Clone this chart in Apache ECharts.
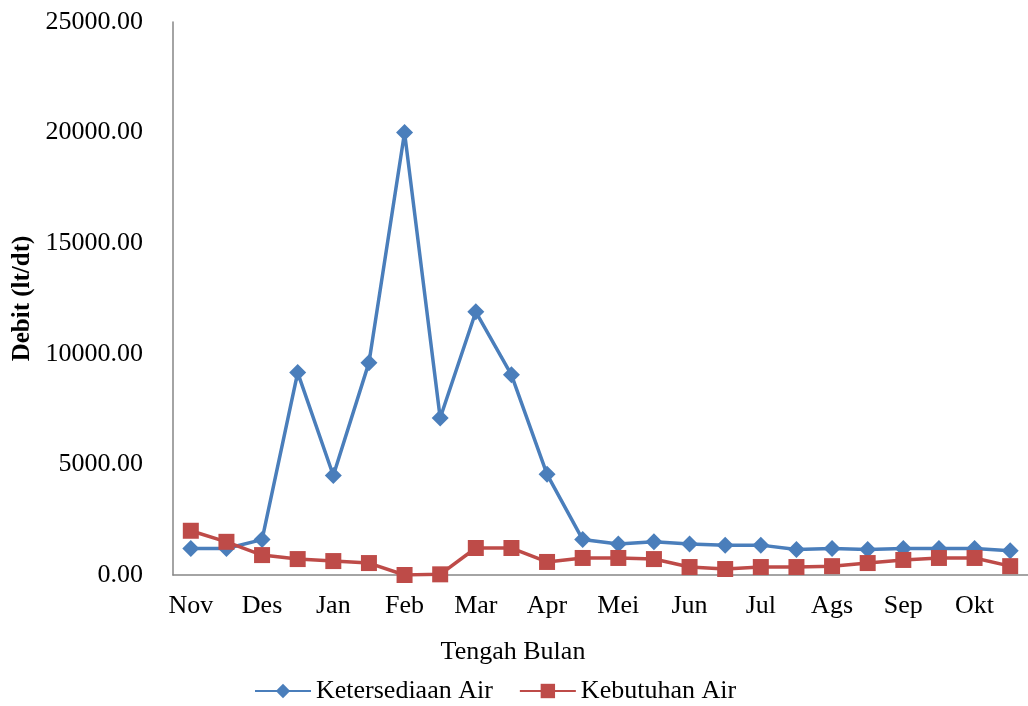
<!DOCTYPE html>
<html>
<head>
<meta charset="utf-8">
<script src="https://cdn.jsdelivr.net/npm/echarts@6/dist/echarts.min.js"></script>
<style>html,body{margin:0;padding:0;background:#fff}#c{width:1028px;height:706px}</style>
</head>
<body>
<div id="c"></div>
<script>
const months = ['Nov','Des','Jan','Feb','Mar','Apr','Mei','Jun','Jul','Ags','Sep','Okt'];
const categories = [];
months.forEach(m => { categories.push(m + ' I'); categories.push(m + ' II'); });
const ketersediaan = [1200,1200,1600,9150,4500,9600,20000,7100,11900,9050,4550,1600,1400,1500,1400,1350,1350,1150,1200,1150,1200,1200,1200,1100];
const kebutuhan = [2000,1500,900,720,630,540,0,30,1220,1220,590,770,770,720,360,270,360,360,400,540,680,770,770,400];
const yTicks = [0,5000,10000,15000,20000,25000];

const font = '"Liberation Serif", "Times New Roman", serif';
const chart = echarts.init(document.getElementById('c'), null, {renderer:'canvas'});
chart.setOption({
  animation:false,
  backgroundColor:'#fff',
  title:{text:'Tengah Bulan', left:508, top:634, textAlign:'center',
    textStyle:{fontFamily:font, fontSize:26, fontWeight:'normal', color:'#000'}},
  grid:{left:173, right:-4, top:22, bottom:131},
  legend:{
    top:673, left:249, itemGap:26, itemWidth:56, itemHeight:18,
    textStyle:{fontFamily:font, fontSize:26, color:'#000'},
    data:['Ketersediaan Air','Kebutuhan Air']
  },
  xAxis:{
    type:'category', data:categories, boundaryGap:true,
    axisLine:{lineStyle:{color:'#868686', width:1.5}},
    axisTick:{show:false},
    axisLabel:{interval:0, margin:18, fontFamily:font, fontSize:26, color:'#000',
      formatter:(v)=> v.endsWith(' I') ? v.slice(0,-2) : ''}
  },
  yAxis:{
    type:'value', min:yTicks[0], max:yTicks[yTicks.length-1], interval:5000,
    name:'Debit (lt/dt)', nameLocation:'middle', nameGap:128,
    nameTextStyle:{fontFamily:font, fontSize:25, fontWeight:'bold', color:'#000'},
    axisLine:{show:true, lineStyle:{color:'#868686', width:1.5}},
    axisTick:{show:false},
    splitLine:{show:false},
    axisLabel:{margin:30, fontFamily:font, fontSize:26, color:'#000', formatter:(v)=>v.toFixed(2)}
  },
  series:[
    {name:'Ketersediaan Air', type:'line', data:ketersediaan, symbol:'diamond', symbolSize:17,
      lineStyle:{color:'#4a7ebb', width:3.5}, itemStyle:{color:'#4a7ebb'}, z:2},
    {name:'Kebutuhan Air', type:'line', data:kebutuhan, symbol:'rect', symbolSize:16,
      lineStyle:{color:'#be4b48', width:3.5}, itemStyle:{color:'#be4b48'}, z:3}
  ]
});
</script>
</body>
</html>
